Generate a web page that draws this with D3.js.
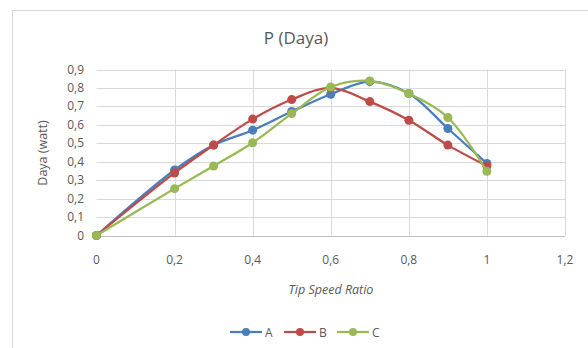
<!DOCTYPE html>
<html lang="en">
<head>
<meta charset="UTF-8">
<title>P (Daya)</title>
<script src="https://d3js.org/d3.v7.min.js"></script>
<style>
  body { margin: 0; background: #fff; }
  text { font-family: "Open Sans", "Liberation Sans", sans-serif; fill: #595959; }
</style>
</head>
<body>
<script>
// data
var tsr = [0, 0.2, 0.3, 0.4, 0.5, 0.6, 0.7, 0.8, 0.9, 1];
var seriesA = [0, 0.355, 0.49, 0.571, 0.672, 0.766, 0.834, 0.77, 0.58, 0.391];
var seriesB = [0, 0.339, 0.49, 0.631, 0.737, 0.80, 0.726, 0.625, 0.49, 0.377];
var seriesC = [0, 0.254, 0.377, 0.503, 0.661, 0.805, 0.838, 0.77, 0.64, 0.348];
var seriesNames = ["A", "B", "C"];
var xTicks = [0, 0.2, 0.4, 0.6, 0.8, 1, 1.2];
var yTicks = [0, 0.1, 0.2, 0.3, 0.4, 0.5, 0.6, 0.7, 0.8, 0.9];

var width = 588, height = 348;
var colors = ["#4a7ebb", "#be4b48", "#98b954"];

var svg = d3.select("body").append("svg")
    .attr("width", width).attr("height", height);

// chart border
svg.append("rect")
    .attr("x", 12.5).attr("y", 10.5)
    .attr("width", 600).attr("height", 400)
    .attr("fill", "#fff").attr("stroke", "#d9d9d9");

var x = d3.scaleLinear().domain([0, 1.2]).range([96.5, 565]);
var y = d3.scaleLinear().domain([0, 0.9]).range([235.5, 69.5]);

var fmt = function(d) { return String(d).replace(".", ","); };

// gridlines
svg.append("g").selectAll("line.h")
    .data(yTicks.slice(1))
    .enter().append("line")
    .attr("x1", x(0)).attr("x2", x(1.2))
    .attr("y1", function(d) { return Math.round(y(d)) + 0.5; })
    .attr("y2", function(d) { return Math.round(y(d)) + 0.5; })
    .attr("stroke", "#d9d9d9");

svg.append("g").selectAll("line.v")
    .data(xTicks.slice(1))
    .enter().append("line")
    .attr("y1", y(0)).attr("y2", y(0.9))
    .attr("x1", function(d) { return Math.round(x(d)) + 0.5; })
    .attr("x2", function(d) { return Math.round(x(d)) + 0.5; })
    .attr("stroke", "#d9d9d9");

// x axis line
svg.append("line")
    .attr("x1", x(0)).attr("x2", x(1.2))
    .attr("y1", Math.round(y(0)) + 0.5).attr("y2", Math.round(y(0)) + 0.5)
    .attr("stroke", "#bfbfbf");

// tick labels
svg.append("g").selectAll("text")
    .data(yTicks)
    .enter().append("text")
    .attr("x", 84)
    .attr("y", function(d) { return y(d) + 4; })
    .attr("text-anchor", "end")
    .attr("font-size", "12px")
    .text(fmt);

svg.append("g").selectAll("text")
    .data(xTicks)
    .enter().append("text")
    .attr("x", function(d) { return x(d); })
    .attr("y", 264)
    .attr("text-anchor", "middle")
    .attr("font-size", "12px")
    .text(fmt);

// titles
svg.append("text")
    .attr("x", 296).attr("y", 44)
    .attr("text-anchor", "middle")
    .attr("font-size", "17px")
    .text("P (Daya)");

svg.append("text")
    .attr("transform", "translate(47,153) rotate(-90)")
    .attr("text-anchor", "middle")
    .attr("font-size", "12.5px")
    .text("Daya (watt)");

svg.append("text")
    .attr("x", 331).attr("y", 294)
    .attr("text-anchor", "middle")
    .attr("font-size", "12.5px")
    .attr("font-style", "italic")
    .text("Tip Speed Ratio");

// series
var allSeries = [seriesA, seriesB, seriesC];
var line = d3.line()
    .x(function(d) { return x(d[0]); })
    .y(function(d) { return y(d[1]); })
    .curve(d3.curveCatmullRom.alpha(0.5));

allSeries.forEach(function(vals, i) {
    var pts = tsr.map(function(t, j) { return [t, vals[j]]; });
    var g = svg.append("g");
    g.append("path")
        .attr("d", line(pts))
        .attr("fill", "none")
        .attr("stroke", colors[i])
        .attr("stroke-width", 2.25);
    g.selectAll("circle")
        .data(pts)
        .enter().append("circle")
        .attr("cx", function(d) { return x(d[0]); })
        .attr("cy", function(d) { return y(d[1]); })
        .attr("r", 4.5)
        .attr("fill", colors[i]);
});

// legend
var legend = svg.append("g");
var lx = [230, 284, 337];
seriesNames.forEach(function(n, i) {
    var lg = legend.append("g").attr("transform", "translate(" + lx[i] + ",332)");
    lg.append("line").attr("x1", 0).attr("x2", 32).attr("stroke", colors[i]).attr("stroke-width", 2.25);
    lg.append("circle").attr("cx", 16).attr("r", 4).attr("fill", colors[i]);
    lg.append("text").attr("x", 35).attr("y", 4.5).attr("font-size", "12px").text(n);
});
</script>
</body>
</html>
